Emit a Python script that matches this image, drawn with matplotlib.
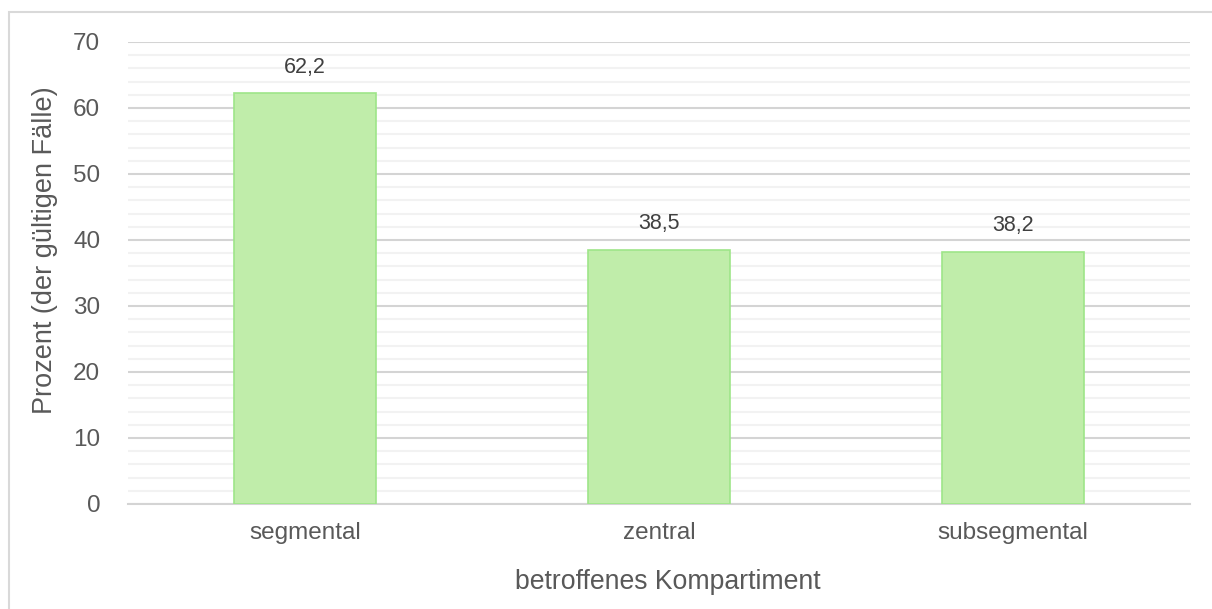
import matplotlib.pyplot as plt
from matplotlib.patches import Rectangle
from matplotlib.ticker import MultipleLocator

plt.rcParams['font.family'] = ['Liberation Sans', 'DejaVu Sans']

categories = ['segmental', 'zentral', 'subsegmental']
values = [62.2, 38.5, 38.2]
value_labels = ['62,2', '38,5', '38,2']

text_color = '#595959'

fig = plt.figure(figsize=(12.12, 6.09), dpi=100)
ax = fig.add_axes([128 / 1212, 1 - 504 / 609, (1190 - 128) / 1212, (504 - 42) / 609])

# outer chart frame, runs off the right and bottom edge
frame = Rectangle((9 / 1212, -0.05), 1.2, 1 - 12 / 609 + 0.05, transform=fig.transFigure,
                  fill=False, edgecolor='#d9d9d9', linewidth=1.5, clip_on=False)
fig.patches.append(frame)

x = range(len(categories))
bars = ax.bar(x, values, width=0.4, color='#c0edaa', edgecolor='#9ee589', linewidth=1.2, zorder=3)

for xi, v, lab in zip(x, values, value_labels):
    ax.text(xi, v + 2.4, lab, ha='center', va='bottom', fontsize=15.5, color='#404040')

ax.set_xlim(-0.5, 2.5)
ax.set_ylim(0, 70)
ax.yaxis.set_major_locator(MultipleLocator(10))
ax.yaxis.set_minor_locator(MultipleLocator(2))
ax.grid(which='major', axis='y', color='#d4d4d4', linewidth=1.5, zorder=0)
ax.grid(which='minor', axis='y', color='#f2f2f2', linewidth=1.5, zorder=0)
ax.set_axisbelow(True)

for side in ['top', 'right', 'left']:
    ax.spines[side].set_visible(False)
ax.spines['bottom'].set_color('#d4d4d4')
ax.spines['bottom'].set_linewidth(1.5)

ax.set_xticks(list(x))
ax.set_xticklabels(categories)
ax.tick_params(axis='both', which='both', length=0, labelsize=17.5, colors=text_color)
ax.tick_params(axis='x', pad=13)
ax.tick_params(axis='y', pad=20)

ax.set_xlabel('betroffenes Kompartiment', fontsize=19.2, color=text_color,
              labelpad=18, x=0.508)
ax.set_ylabel('Prozent (der gültigen Fälle)', fontsize=19.5, color=text_color,
              labelpad=11, y=0.55)

fig.savefig('out.png', dpi=100)
